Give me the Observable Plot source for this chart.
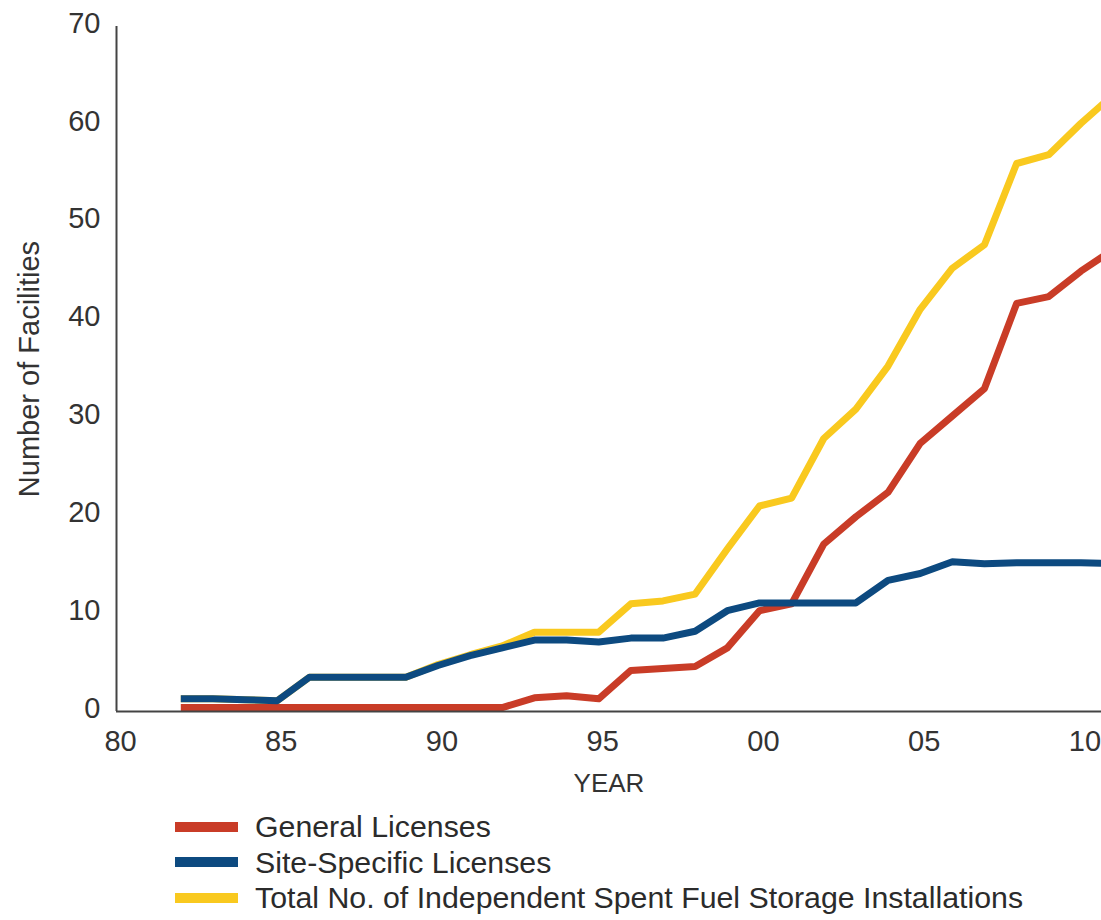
<!DOCTYPE html>
<html>
<head>
<meta charset="utf-8">
<script src="https://cdn.jsdelivr.net/npm/d3@7"></script>
<script src="https://cdn.jsdelivr.net/npm/@observablehq/plot@0.6"></script>
<style>
  html, body { margin: 0; padding: 0; background: #fff; }
  #chart { width: 1101px; font-family: "Liberation Sans", Arial, sans-serif; color: #333; }
  .legend { padding-top: 9px; }
  .row { display: flex; align-items: center; height: 35.5px; }
  .sw { width: 63px; height: 10px; margin-left: 175px; margin-right: 17px; }
  .lab { font-size: 30.3px; line-height: 35px; color: #2b2b2b; }
</style>
</head>
<body>
<div id="chart"></div>
<script>
const years = [1982,1983,1984,1985,1986,1987,1988,1989,1990,1991,1992,1993,1994,1995,1996,1997,1998,1999,2000,2001,2002,2003,2004,2005,2006,2007,2008,2009,2010,2011];
const generalLicenses = [0.4,0.4,0.4,0.4,0.4,0.4,0.4,0.4,0.4,0.4,0.4,1.4,1.6,1.3,4.2,4.4,4.6,6.5,10.3,11.0,17.1,19.9,22.4,27.4,30.2,33.0,41.7,42.4,45.0,47.2];
const siteSpecific = [1.3,1.3,1.2,1.1,3.5,3.5,3.5,3.5,4.7,5.7,6.5,7.3,7.3,7.1,7.5,7.5,8.2,10.3,11.1,11.1,11.1,11.1,13.4,14.1,15.3,15.1,15.2,15.2,15.2,15.1];
const totalISFSI = [1.3,1.3,1.2,1.1,3.5,3.5,3.5,3.5,4.8,5.8,6.7,8.1,8.1,8.1,11.0,11.3,12.0,16.6,21.0,21.8,27.9,30.9,35.3,41.1,45.3,47.7,56.0,56.9,60.1,63.0];
const seriesNames = ["General Licenses", "Site-Specific Licenses", "Total No. of Independent Spent Fuel Storage Installations"];
const seriesColors = ["#c93c27", "#0d4a80", "#f9c91f"];
const xTicks = [1980,1985,1990,1995,2000,2005,2010];
const yTicks = [0,10,20,30,40,50,60,70];

const mk = (vals) => years.map((yr, i) => ({year: yr, value: vals[i]}));
const gen = mk(generalLicenses), site = mk(siteSpecific), tot = mk(totalISFSI);

const lineOpts = (c) => ({x: "year", y: "value", stroke: c, strokeWidth: 7, strokeLinejoin: "round", strokeLinecap: "butt", clip: true});
const fmtYear = d => String(d % 100).padStart(2, "0");

const plot = Plot.plot({
  width: 1101,
  height: 800,
  marginLeft: 116,
  marginRight: 0,
  marginTop: 26,
  marginBottom: 89,
  style: {fontFamily: '"Liberation Sans", Arial, sans-serif', fontSize: "29px", color: "#333", background: "#fff"},
  x: {domain: [1980, 2010.64], ticks: xTicks, tickFormat: fmtYear},
  y: {domain: [0, 70], ticks: yTicks},
  marks: [
    Plot.axisX({ticks: xTicks, tickFormat: fmtYear, tickSize: 0, tickPadding: 19, dx: 4, fontSize: 29, label: null}),
    Plot.axisX({ticks: [], tickSize: 0, fontSize: 26, label: "YEAR", labelAnchor: "center", labelOffset: 80, labelArrow: "none", dx: -7}),
    Plot.axisY({ticks: yTicks, tickSize: 0, tickPadding: 16, dy: -3, fontSize: 29, label: "Number of Facilities", labelAnchor: "center", labelOffset: 98, labelArrow: "none", dy: -3}),
    Plot.line(tot, lineOpts(seriesColors[2])),
    Plot.line(gen, lineOpts(seriesColors[0])),
    Plot.line(site, lineOpts(seriesColors[1])),
    Plot.ruleY([0], {stroke: "#444", strokeWidth: 2}),
    Plot.ruleX([1980], {y1: 0, y2: 70, stroke: "#444", strokeWidth: 2})
  ]
});

const chart = document.getElementById("chart");
chart.appendChild(plot);

const legend = document.createElement("div");
legend.className = "legend";
seriesNames.forEach((name, i) => {
  const row = document.createElement("div");
  row.className = "row";
  const sw = document.createElement("span");
  sw.className = "sw";
  sw.style.background = seriesColors[i];
  const lab = document.createElement("span");
  lab.className = "lab";
  lab.textContent = name;
  row.appendChild(sw); row.appendChild(lab);
  legend.appendChild(row);
});
chart.appendChild(legend);
</script>
</body>
</html>
